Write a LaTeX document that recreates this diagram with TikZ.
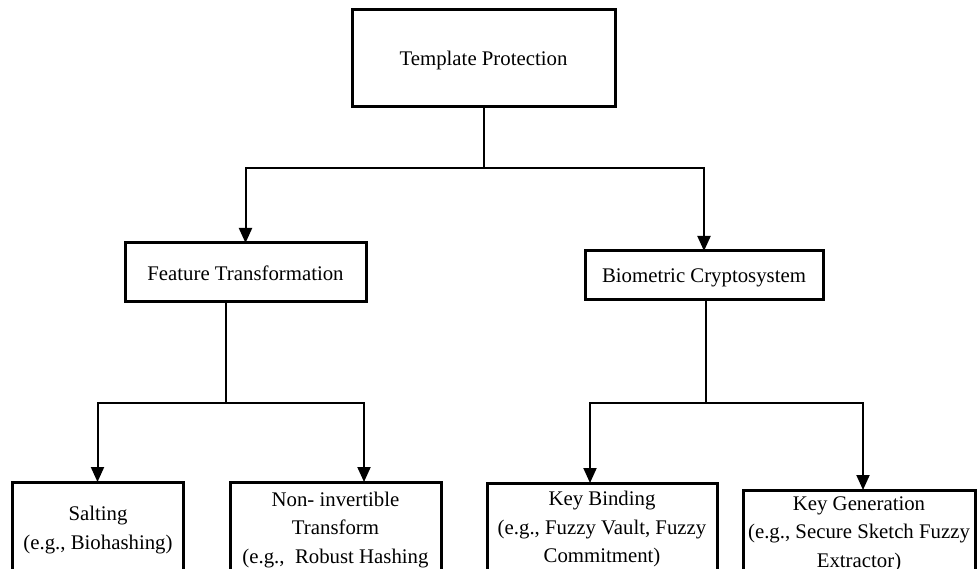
\documentclass[tikz,border=0pt]{standalone}
\usepackage{fontspec}
\setmainfont{Liberation Serif}
\usetikzlibrary{arrows.meta}
\begin{document}
\begin{tikzpicture}[x=1pt,y=-1pt,
  box/.style={draw, line width=3pt, inner sep=0pt, outer sep=0pt, anchor=north west},
  lbl/.style={inner sep=0pt, align=center, font=\fontsize{20.8}{28.4}\selectfont},
  link/.style={line width=2pt},
  arr/.style={link, -{Triangle[length=15pt,width=13pt]}}]
\clip (0,0) rectangle (977,569);
\fill[white] (0,0) rectangle (977,569);

% boxes
\node[box, minimum width=263pt, minimum height=97pt]  (top)    at (352,10)  {};
\node[box, minimum width=241pt, minimum height=59pt]  (feat)   at (125,243) {};
\node[box, minimum width=238pt, minimum height=49pt]  (bio)    at (585,251) {};
\node[box, minimum width=171pt, minimum height=120pt] (salt)   at (12,482)  {};
\node[box, minimum width=211pt, minimum height=120pt] (noninv) at (230,482) {};
\node[box, minimum width=230pt, minimum height=120pt] (bind)   at (487,483) {};
\node[box, minimum width=232pt, minimum height=120pt] (keygen) at (743,490) {};

% labels
\node[lbl, anchor=base]  (topT)    at (483.5,65.7) {Template Protection};
\node[lbl, anchor=base]  (featT)   at (245.5,280)  {Feature Transformation};
\node[lbl, anchor=base]  (bioT)    at (704,282.7)  {Biometric Cryptosystem};
\node[lbl, anchor=north] (saltT)   at (98,506)     {Salting\\(e.g., Biohashing)};
\node[lbl, anchor=north] (noninvT) at (335.5,491.7) {Non- invertible\\Transform\\(e.g.,\ \ Robust Hashing};
\node[lbl, anchor=north] (bindT)   at (602,491)    {Key Binding\\(e.g., Fuzzy Vault, Fuzzy\\Commitment)};
\node[lbl, anchor=north] (keygenT) at (859,496.5)  {Key Generation\\(e.g., Secure Sketch Fuzzy\\Extractor)};

% junctions and arrow columns
\coordinate (j1) at (483.5,168);
\coordinate (j2) at (226,403);
\coordinate (j3) at (706,403);
\coordinate (c2) at (364,0);
\coordinate (c3) at (590,0);
\coordinate (c4) at (863,0);

% connectors
\draw[link] (top.south) -- (j1);
\draw[arr] (j1) -| (feat.north);
\draw[arr] (j1) -| (bio.north);

\draw[link] (feat.south -| j2) -- (j2);
\draw[arr] (j2) -| (salt.north);
\draw[arr] (j2) -| (c2 |- noninv.north);

\draw[link] (bio.south -| j3) -- (j3);
\draw[arr] (j3) -| (c3 |- bind.north);
\draw[arr] (j3) -| (c4 |- keygen.north);
\end{tikzpicture}
\end{document}
